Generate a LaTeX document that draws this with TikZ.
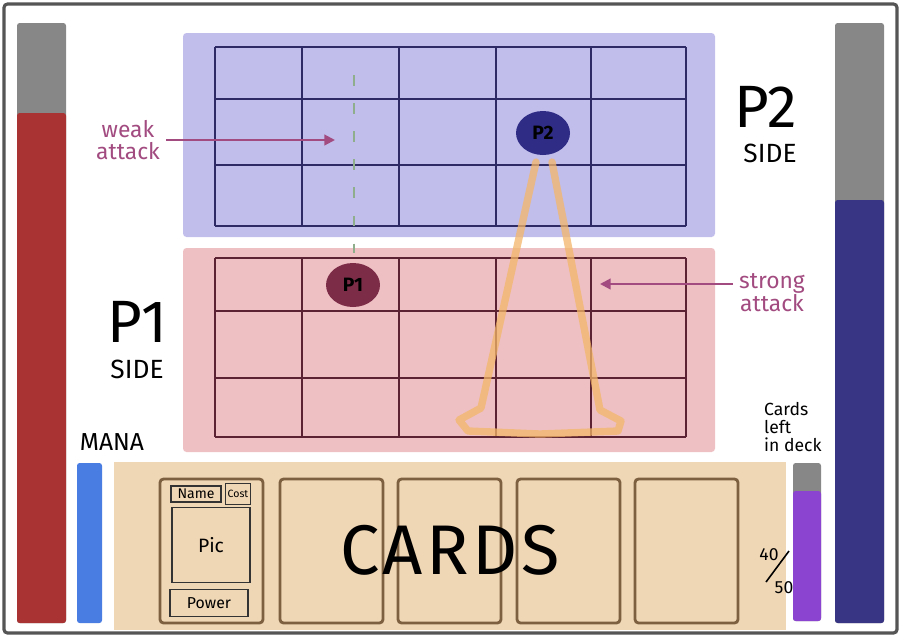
\documentclass[tikz,border=0pt]{standalone}
\usepackage{fontspec}
\setmainfont{Fira Sans}
\usetikzlibrary{arrows.meta,shapes.geometric}
\definecolor{framecol}{HTML}{555555}
\definecolor{barGray}{HTML}{878787}
\definecolor{hpRed}{HTML}{A93333}
\definecolor{hpBlue}{HTML}{383585}
\definecolor{p2zone}{HTML}{C1BEEC}
\definecolor{p1zone}{HTML}{EEC0C4}
\definecolor{handzone}{HTML}{EFD6B4}
\definecolor{p2grid}{HTML}{2E2A66}
\definecolor{p1grid}{HTML}{5A2232}
\definecolor{p1tok}{HTML}{7D2C47}
\definecolor{p2tok}{HTML}{2F2C86}
\definecolor{beamcol}{HTML}{F3B66A}
\definecolor{dashcol}{HTML}{8FAF8C}
\definecolor{notecol}{HTML}{A24B80}
\definecolor{manacol}{HTML}{4A7DE2}
\definecolor{deckcol}{HTML}{8B44CF}
\definecolor{cardline}{HTML}{7D6040}

\begin{document}
\begin{tikzpicture}[x=0.02cm,y=-0.02cm,
  bar/.style={rounded corners=1.5pt},
  zone/.style={rounded corners=2pt},
  gridline/.style={line width=1.1pt},
  cardbox/.style={draw=cardline,line width=1.6pt,rounded corners=2pt},
  slot/.style={draw=black!80,line width=0.9pt,inner sep=0pt},
  token/.style={ellipse,minimum width=1.08cm,minimum height=0.88cm,inner sep=0pt,
    font=\fontsize{11}{11}\selectfont\bfseries},
  note/.style={text=notecol,align=center,font=\fontsize{13}{13}\selectfont},
  notearrow/.style={draw=notecol,line width=1.2pt,-{Triangle[length=6pt,width=6pt]}},
  big/.style={font=\fontsize{34}{34}\selectfont},
  side/.style={font=\fontsize{15}{15}\selectfont},
  beam/.style={draw=beamcol,line width=4.2pt,opacity=0.75,line join=round,line cap=round}]
\useasboundingbox (0,0) rectangle (902,637);
%\draw [help lines] (0,0) grid (902,637);
\draw[framecol,line width=1.8pt,rounded corners=2pt] (4,4) rectangle (897,633);

% health bars
\fill[barGray,bar] (17,23) rectangle (66,623);
\fill[hpRed,bar] (17,113) rectangle (66,623);
\fill[barGray,bar] (835,23) rectangle (884,623);
\fill[hpBlue,bar] (835,200) rectangle (884,623);

% the two sides and the hand
\fill[p2zone,zone] (183,33) rectangle (715,237);
\fill[p1zone,zone] (183,248) rectangle (715,452);
\fill[handzone] (114,462) rectangle (786,630);

\foreach \gx in {215,302,399,496,591,686} {
  \draw[p2grid,gridline] (\gx,47)--(\gx,226);
  \draw[p1grid,gridline] (\gx,258)--(\gx,437);
}
\foreach \gy in {47,99,165,226}
  \draw[p2grid,gridline] (215,\gy)--(686,\gy);
\foreach \gy in {258,311,378,437}
  \draw[p1grid,gridline] (215,\gy)--(686,\gy);

\draw[dashcol,line width=1.2pt,dash pattern=on 6pt off 10pt] (354,75)--(354,253);
\draw[beam] (536,162)--(481,408)--(459,420)--(468,431)--(540,434)--(618,431)--(621,421)--(600,410)--(552,162);

\node[token,fill=p1tok] (p1) at (353,285) {P1};
\node[token,fill=p2tok] (p2) at (543,133) {P2};

% attack notes
\node[note] (weak) at (128,140) {weak\\attack};
\coordinate (weakhit) at (335,140);
\draw[notearrow] (weak.east)--(weakhit);
\node[note] (strong) at (772,293) {strong\\attack};
\coordinate (stronghit) at (600,284);
\draw[notearrow] (strong.west |- stronghit)--(stronghit);

\node[big] (p2name) at (766,107) {P2};
\node[side] (p2side) at (770,153) {SIDE};
\node[big] (p1name) at (137,322) {P1};
\node[side] (p1side) at (137,369) {SIDE};

% mana
\node[font=\fontsize{14}{14}\selectfont] (mana) at (112,442) {MANA};
\fill[manacol,bar] (77,463) rectangle (102,623);

% cards
\foreach \cx in {160,280,398,517,635}
  \draw[cardbox] (\cx,479) rectangle +(103,144);
\node[slot,minimum width=1.0cm,minimum height=0.32cm,font=\fontsize{8}{8}\selectfont] (cname) at (196,494) {Name};
\node[slot,minimum width=0.5cm,minimum height=0.42cm,font=\fontsize{6}{6}\selectfont] (ccost) at (238,494) {Cost};
\node[slot,minimum width=1.56cm,minimum height=1.5cm,font=\fontsize{11}{11}\selectfont] (cpic) at (211,545) {Pic};
\node[slot,minimum width=1.56cm,minimum height=0.54cm,font=\fontsize{9}{9}\selectfont] (cpower) at (209,603) {Power};
\node[font=\fontsize{40}{40}\selectfont\addfontfeature{LetterSpace=5}] (cards) at (450,550) {CARDS};

% deck
\node[anchor=west,align=left,font=\fontsize{10}{10}\selectfont] (decklabel) at (758,427) {Cards\\left\\in deck};
\fill[barGray,bar] (793,463) rectangle (821,621);
\fill[deckcol,bar] (793,491) rectangle (821,621);
\node[font=\fontsize{10}{10}\selectfont] (deckleft) at (769,555) {40};
\node[font=\fontsize{10}{10}\selectfont] (decktotal) at (784,588) {50};
\draw[line width=0.9pt] (789,551)--(766,582);
\end{tikzpicture}
\end{document}
